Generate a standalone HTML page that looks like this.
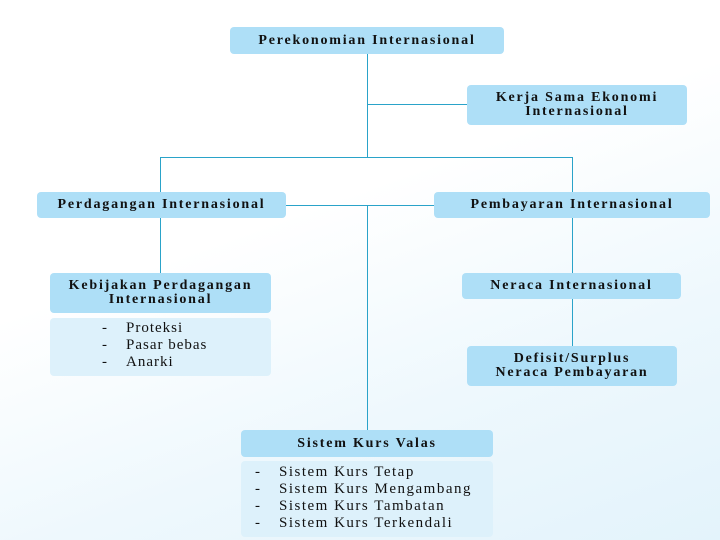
<!DOCTYPE html><html><head><style>
body{margin:0;width:720px;height:540px;position:relative;overflow:hidden;background:linear-gradient(160deg,#fff 40%,#eef8fd 70%,#e3f3fb);font-family:"Liberation Serif",serif;color:#111}
.b{position:absolute;background:#aedff7;border-radius:4px;font-weight:bold;font-size:14px;letter-spacing:1.8px;text-align:center;display:flex;align-items:center;justify-content:center;line-height:14px;white-space:nowrap}
.l{position:absolute;background:#ddf1fb;border-radius:4px;font-size:15px;line-height:17px;white-space:nowrap}
.h,.v{position:absolute;background:#2aa3c9}
.h{height:1px}.v{width:1px}
.l div span{display:inline-block;width:24px;letter-spacing:0}
</style></head><body>
<div class="v" style="left:367px;top:54px;height:103px"></div>
<div class="h" style="left:367px;top:104px;width:100px"></div>
<div class="h" style="left:160px;top:157px;width:413px"></div>
<div class="v" style="left:160px;top:157px;height:116px"></div>
<div class="v" style="left:572px;top:157px;height:189px"></div>
<div class="h" style="left:286px;top:205px;width:148px"></div>
<div class="v" style="left:367px;top:205px;height:225px"></div>
<div class="b" style="left:230px;top:27px;width:274px;height:27px">Perekonomian Internasional</div>
<div class="b" style="left:467px;top:85px;width:220px;height:40px">Kerja Sama Ekonomi<br>Internasional</div>
<div class="b" style="left:37px;top:192px;width:249px;height:26px">Perdagangan Internasional</div>
<div class="b" style="left:434px;top:192px;width:276px;height:26px">Pembayaran Internasional</div>
<div class="b" style="left:50px;top:273px;width:221px;height:40px">Kebijakan Perdagangan<br>Internasional</div>
<div class="l" style="left:50px;top:318px;width:221px;height:58px;padding-left:52px;box-sizing:border-box;padding-top:2px;letter-spacing:1px"><div><span>-</span>Proteksi</div><div><span>-</span>Pasar bebas</div><div><span>-</span>Anarki</div></div>
<div class="b" style="left:462px;top:273px;width:219px;height:26px">Neraca Internasional</div>
<div class="b" style="left:467px;top:346px;width:210px;height:40px">Defisit/Surplus<br>Neraca Pembayaran</div>
<div class="b" style="left:241px;top:430px;width:252px;height:27px">Sistem Kurs Valas</div>
<div class="l" style="left:241px;top:461px;width:252px;height:76px;padding-left:14px;box-sizing:border-box;padding-top:3px;letter-spacing:1.5px"><div><span>-</span>Sistem Kurs Tetap</div><div><span>-</span>Sistem Kurs Mengambang</div><div><span>-</span>Sistem Kurs Tambatan</div><div><span>-</span>Sistem Kurs Terkendali</div></div>
</body></html>
